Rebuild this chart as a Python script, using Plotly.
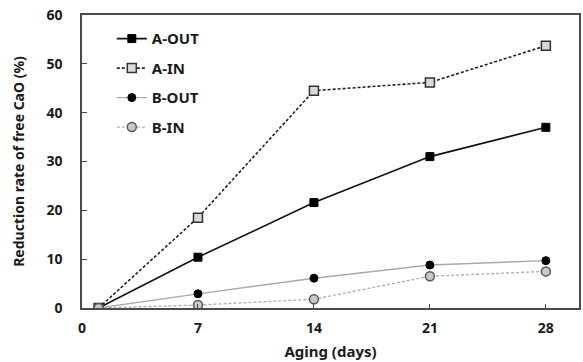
import plotly.graph_objects as go

days = [1, 7, 14, 21, 28]
a_out = [0, 10.4, 21.6, 31.0, 37.0]
a_in = [0, 18.5, 44.5, 46.2, 53.7]
b_out = [0, 2.9, 6.1, 8.8, 9.7]
b_in = [0, 0.6, 1.8, 6.5, 7.5]

x_ticks = [0, 7, 14, 21, 28]
y_ticks = [0, 10, 20, 30, 40, 50, 60]

FONT = "Noto Sans"

fig = go.Figure()
fig.add_trace(go.Scatter(
    x=days, y=a_out, name="A-OUT", mode="lines+markers", legendgroup="1",
    line=dict(color="#111111", width=1.6),
    marker=dict(symbol="square", size=8, color="#000000", line=dict(color="#000000", width=1)),
))
fig.add_trace(go.Scatter(
    x=days, y=a_in, name="A-IN", mode="lines+markers", legendgroup="2",
    line=dict(color="#222222", width=1.6, dash="3px,2px"),
    marker=dict(symbol="square", size=9, color="#d9d9d9", line=dict(color="#333333", width=1.5)),
))
fig.add_trace(go.Scatter(
    x=days, y=b_out, name="B-OUT", mode="lines+markers", legendgroup="3",
    line=dict(color="#aaaaaa", width=1.4),
    marker=dict(symbol="circle", size=8, color="#000000", line=dict(color="#000000", width=1)),
))
fig.add_trace(go.Scatter(
    x=days, y=b_in, name="B-IN", mode="lines+markers", legendgroup="4",
    line=dict(color="#b0b0b0", width=1.4, dash="3px,2px"),
    marker=dict(symbol="circle", size=9, color="#c8c8c8", line=dict(color="#555555", width=1.5)),
))

fig.update_layout(
    width=583, height=362,
    margin=dict(l=82, r=2, t=15, b=54),
    paper_bgcolor="white", plot_bgcolor="white",
    font=dict(family=FONT, size=14, color="#1a1a1a", weight="bold"),
    legend=dict(
        x=0.06, y=0.975, xanchor="left", yanchor="top",
        bgcolor="rgba(0,0,0,0)", tracegroupgap=7, itemwidth=30,
        font=dict(family=FONT, size=15, color="#1a1a1a", weight="bold"),
    ),
    showlegend=True,
)
fig.update_xaxes(
    range=[0, 30], tickvals=x_ticks, ticktext=[str(v) for v in x_ticks],
    showgrid=False, zeroline=False,
    showline=True, linecolor="#4a4a4a", linewidth=1.5, mirror=True,
    ticks="inside", ticklen=4, tickcolor="#4a4a4a", ticklabelstandoff=6,
    tickfont=dict(family=FONT, size=14, weight="bold"),
    title=dict(text="Aging (days)", font=dict(family=FONT, size=15, weight="bold"), standoff=11),
)
fig.update_yaxes(
    range=[0, 60], tickvals=y_ticks,
    showgrid=False, zeroline=False,
    showline=True, linecolor="#4a4a4a", linewidth=1.5, mirror=True,
    ticks="inside", ticklen=5, tickcolor="#4a4a4a", ticklabelstandoff=15,
    tickfont=dict(family=FONT, size=14, weight="bold"),
    title=dict(text="Reduction rate of free CaO (%)", font=dict(family=FONT, size=14, weight="bold"), standoff=19),
)

fig.write_html("out.html")
